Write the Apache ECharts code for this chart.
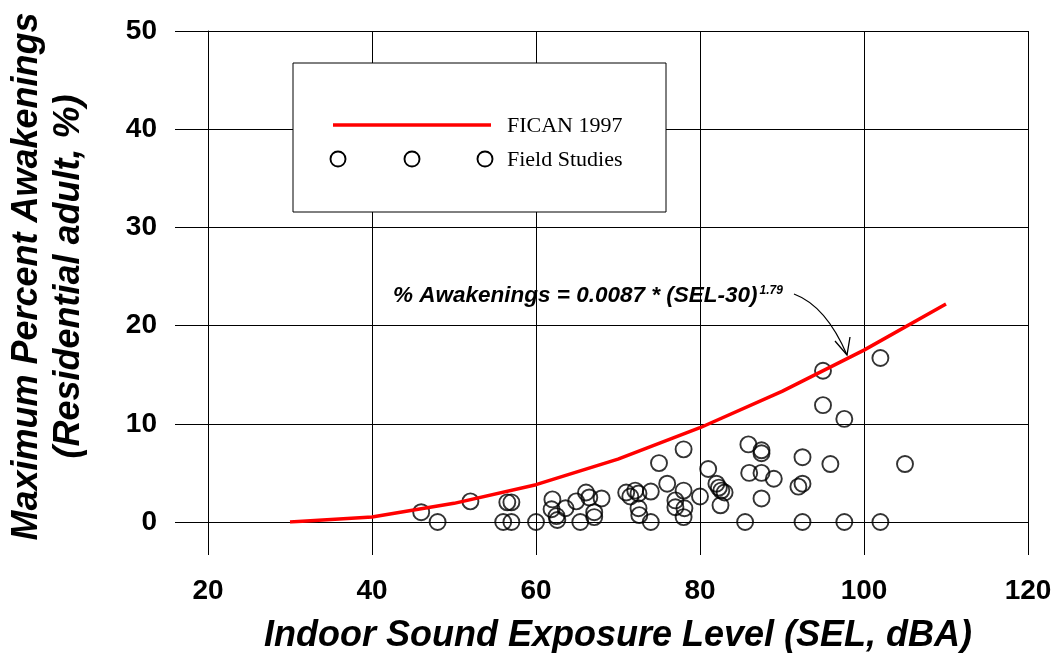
<!DOCTYPE html>
<html>
<head>
<meta charset="utf-8">
<script src="https://cdn.jsdelivr.net/npm/echarts@6/dist/echarts.min.js"></script>
<style>
  html, body { margin: 0; padding: 0; background: #fff; }
  #chart { width: 1053px; height: 653px; }
</style>
</head>
<body>
<div id="chart"></div>
<script>
// FICAN 1997 curve at 10 dB steps
const ficanSel = [30, 40, 50, 60, 70, 80, 90, 100, 110];
const ficanAwake = [0, 0.5, 1.9, 3.8, 6.4, 9.6, 13.3, 17.5, 22.2];

// field studies (SEL in dBA, max % awakenings)
const fieldSel = [46.0, 48.0, 52.0, 56.0, 56.5, 57.0, 57.0, 60.0, 62.0, 61.9,
  62.5, 62.6, 63.6, 64.9, 65.4, 66.1, 66.5, 68.0, 67.1, 67.1,
  71.0, 71.5, 72.1, 72.5, 72.5, 72.6, 74.0, 74.0, 75.0, 76.0,
  77.0, 77.0, 78.0, 78.0, 78.1, 78.0, 80.0, 81.0, 82.0, 82.3,
  82.6, 83.0, 82.5, 85.5, 85.9, 87.5, 87.5, 86.0, 87.5, 89.0,
  87.5, 92.5, 92.0, 92.5, 92.5, 95.9, 95.0, 95.0, 97.6, 97.6,
  102.0, 102.0, 105.0];
const fieldAwake = [1.0, 0, 2.1, 0, 2.0, 2.0, 0, 0, 2.3, 1.3,
  0.6, 0.2, 1.4, 2.1, 0, 3.0, 2.5, 2.4, 1.0, 0.5,
  3.0, 2.6, 3.2, 2.9, 1.4, 0.7, 3.1, 0, 6.0, 3.9,
  2.2, 1.5, 7.4, 3.2, 1.4, 0.5, 2.6, 5.4, 3.9, 3.5,
  3.2, 3.0, 1.7, 0, 7.9, 7.3, 7.0, 5.0, 5.0, 4.4,
  2.4, 6.6, 3.6, 3.9, 0, 5.9, 15.4, 11.9, 10.5, 0,
  16.7, 0, 5.9];

const xTicks = [20, 40, 60, 80, 100, 120];
const yTicks = [0, 10, 20, 30, 40, 50];

const FONT = "'Liberation Sans', Arial, sans-serif";
const SERIF = "'Liberation Serif', 'Times New Roman', serif";

const chart = echarts.init(document.getElementById('chart'));

const option = {
  animation: false,
  grid: { left: 208, right: 25, top: 31, bottom: 131, outerBoundsMode: 'none', containLabel: false },
  xAxis: {
    type: 'value',
    min: xTicks[0],
    max: xTicks[xTicks.length - 1],
    interval: xTicks[1] - xTicks[0],
    name: 'Indoor Sound Exposure Level (SEL, dBA)',
    nameLocation: 'middle',
    nameGap: 96,
    nameTextStyle: { fontFamily: FONT, fontSize: 36, fontWeight: 'bold', fontStyle: 'italic', color: '#000' },
    axisLine: { show: true, onZero: false, lineStyle: { color: '#000', width: 1 } },
    axisTick: { show: true, length: 33, lineStyle: { color: '#000', width: 1 } },
    axisLabel: { margin: 55, fontFamily: FONT, fontSize: 28, fontWeight: 'bold', color: '#000' },
    splitLine: { show: true, lineStyle: { color: '#000', width: 1 } }
  },
  yAxis: {
    type: 'value',
    min: yTicks[0],
    max: yTicks[yTicks.length - 1],
    interval: yTicks[1] - yTicks[0],
    name: 'Maximum Percent Awakenings\n(Residential adult, %)',
    nameLocation: 'middle',
    nameGap: 118,
    nameTextStyle: { fontFamily: FONT, fontSize: 36, fontWeight: 'bold', fontStyle: 'italic', color: '#000', lineHeight: 42 },
    axisLine: { show: true, onZero: false, lineStyle: { color: '#000', width: 1 } },
    axisTick: { show: true, length: 33, lineStyle: { color: '#000', width: 1 } },
    axisLabel: { margin: 51, fontFamily: FONT, fontSize: 28, fontWeight: 'bold', color: '#000' },
    splitLine: { show: true, lineStyle: { color: '#000', width: 1 } }
  },
  series: [
    {
      name: 'Field Studies',
      type: 'scatter',
      symbol: 'circle',
      symbolSize: 16,
      clip: false,
      itemStyle: { color: 'rgba(0,0,0,0)', borderColor: '#000', borderWidth: 1.9 },
      data: fieldSel.map((x, i) => [x, fieldAwake[i]]),
      z: 2
    },
    {
      name: 'FICAN 1997',
      type: 'line',
      showSymbol: false,
      symbol: 'none',
      lineStyle: { color: '#ff0000', width: 3.5 },
      data: ficanSel.map((x, i) => [x, ficanAwake[i]]),
      z: 3
    }
  ],
  graphic: [
    // legend box
    { type: 'rect', shape: { x: 293, y: 63, width: 373, height: 149 },
      style: { fill: '#fff', stroke: '#000', lineWidth: 1 }, z: 10 },
    { type: 'line', shape: { x1: 333, y1: 125, x2: 491, y2: 125 },
      style: { stroke: '#ff0000', lineWidth: 3.5 }, z: 11 },
    { type: 'text', x: 507, y: 126,
      style: { text: 'FICAN 1997', fontFamily: SERIF, fontSize: 22, fill: '#000', verticalAlign: 'middle' }, z: 11 },
    { type: 'circle', shape: { cx: 338, cy: 159, r: 7.5 }, style: { fill: 'none', stroke: '#000', lineWidth: 1.9 }, z: 11 },
    { type: 'circle', shape: { cx: 412, cy: 159, r: 7.5 }, style: { fill: 'none', stroke: '#000', lineWidth: 1.9 }, z: 11 },
    { type: 'circle', shape: { cx: 485, cy: 159, r: 7.5 }, style: { fill: 'none', stroke: '#000', lineWidth: 1.9 }, z: 11 },
    { type: 'text', x: 507, y: 160,
      style: { text: 'Field Studies', fontFamily: SERIF, fontSize: 22, fill: '#000', verticalAlign: 'middle' }, z: 11 },
    // equation annotation
    { type: 'text', x: 393, y: 296,
      style: {
        text: '{m|% Awakenings = 0.0087 * (SEL-30)}{s|1.79}',
        verticalAlign: 'middle',
        rich: {
          m: { fontFamily: FONT, fontSize: 22.5, fontWeight: 'bold', fontStyle: 'italic', fill: '#000', color: '#000' },
          s: { fontFamily: FONT, fontSize: 12, fontWeight: 'bold', fontStyle: 'italic', fill: '#000', color: '#000', verticalAlign: 'top', padding: [0, 0, 0, 2] }
        }
      }, z: 11 },
    { type: 'bezierCurve', shape: { x1: 794, y1: 294, cpx1: 826, cpy1: 306, x2: 847, y2: 355 },
      style: { stroke: '#000', lineWidth: 1.3, fill: 'none' }, z: 11 },
    { type: 'polyline', shape: { points: [[835, 341], [847, 355], [850, 337]] },
      style: { stroke: '#000', lineWidth: 1.3, fill: 'none' }, z: 11 }
  ]
};

chart.setOption(option);
</script>
</body>
</html>
